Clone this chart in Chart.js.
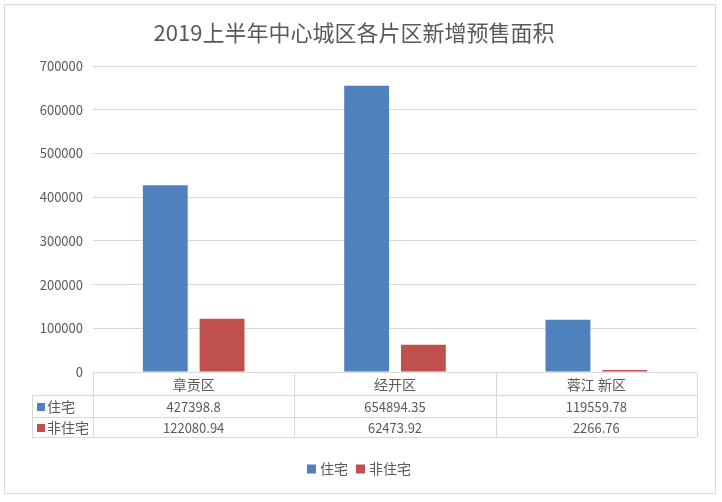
<!DOCTYPE html>
<html>
<head>
<meta charset="utf-8">
<script src="https://cdn.jsdelivr.net/npm/chart.js@4/dist/chart.umd.min.js"></script>
<style>
html,body{margin:0;padding:0;background:#fff;}
#wrap{width:722px;height:502px;position:relative;}
</style>
</head>
<body>
<div id="wrap"><canvas id="c" width="722" height="502"></canvas></div>
<script>
const titleText = '2019上半年中心城区各片区新增预售面积';
const categories = ['章贡区', '经开区', '蓉江 新区'];
const seriesNames = ['住宅', '非住宅'];
const residential = [427398.8, 654894.35, 119559.78];
const nonResidential = [122080.94, 62473.92, 2266.76];
const yTicks = [0, 100000, 200000, 300000, 400000, 500000, 600000, 700000];

const colors = ['#4f81bd', '#c0504d'];
const textColor = '#595959';
const lineColor = '#d9d9d9';
const FONT = '"Microsoft YaHei", "Noto Sans CJK SC", sans-serif';

const tablePlugin = {
  id: 'tablePlugin',
  afterDraw(chart) {
    const ctx = chart.ctx;
    const area = chart.chartArea;
    const x = chart.scales.x;
    const n = categories.length;
    const colW = (area.right - area.left) / n;
    const top = area.bottom;
    const rowY = [top, top + 23, top + 45, top + 65];
    const leftX = 32;
    ctx.save();
    ctx.strokeStyle = lineColor;
    ctx.lineWidth = 1;
    ctx.strokeRect(4.5, 4.5, 711, 489);
    ctx.fillStyle = textColor;
    ctx.font = '22px ' + FONT;
    ctx.textAlign = 'center';
    ctx.textBaseline = 'middle';
    ctx.fillText(titleText, 354, 33);
    ctx.strokeStyle = lineColor;
    ctx.beginPath();
    ctx.moveTo(area.left, rowY[0] + 0.5); ctx.lineTo(area.right, rowY[0] + 0.5);
    for (let r = 1; r < 4; r++) {
      ctx.moveTo(leftX, rowY[r] + 0.5); ctx.lineTo(area.right, rowY[r] + 0.5);
    }
    for (let i = 0; i <= n; i++) {
      const xx = Math.round(area.left + colW * i) + 0.5;
      ctx.moveTo(xx, rowY[0]); ctx.lineTo(xx, rowY[3]);
    }
    ctx.moveTo(leftX + 0.5, rowY[1]); ctx.lineTo(leftX + 0.5, rowY[3]);
    ctx.stroke();
    ctx.fillStyle = textColor;
    ctx.textAlign = 'center';
    ctx.font = '14px ' + FONT;
    for (let i = 0; i < n; i++) {
      ctx.fillText(categories[i], x.getPixelForValue(i), (rowY[0] + rowY[1]) / 2 + 1);
    }
    const rows = [residential, nonResidential];
    for (let r = 0; r < 2; r++) {
      const cy = (rowY[r + 1] + rowY[r + 2]) / 2 + 1;
      ctx.font = '13px ' + FONT;
      ctx.textAlign = 'center';
      for (let i = 0; i < n; i++) {
        ctx.fillText(String(rows[r][i]), x.getPixelForValue(i), cy);
      }
      ctx.fillStyle = colors[r];
      ctx.fillRect(leftX + 5, cy - 4, 8, 8);
      ctx.fillStyle = textColor;
      ctx.textAlign = 'left';
      ctx.font = '14px ' + FONT;
      ctx.fillText(seriesNames[r], leftX + 15, cy);
    }
    let lx = 307;
    const ly = 469;
    ctx.font = '14px ' + FONT;
    ctx.textAlign = 'left';
    for (let r = 0; r < 2; r++) {
      ctx.fillStyle = colors[r];
      ctx.fillRect(lx, ly - 4.5, 9, 9);
      ctx.fillStyle = textColor;
      ctx.fillText(seriesNames[r], lx + 13, ly);
      lx += 13 + ctx.measureText(seriesNames[r]).width + 8;
    }
    ctx.restore();
  }
};

new Chart(document.getElementById('c'), {
  type: 'bar',
  data: {
    labels: categories,
    datasets: [
      { label: seriesNames[0], data: residential, backgroundColor: colors[0], categoryPercentage: 0.564, barPercentage: 0.79, minBarLength: 2 },
      { label: seriesNames[1], data: nonResidential, backgroundColor: colors[1], categoryPercentage: 0.564, barPercentage: 0.79, minBarLength: 2 }
    ]
  },
  options: {
    responsive: false,
    animation: false,
    devicePixelRatio: 1,
    layout: { padding: { top: 66, right: 25, bottom: 130, left: 0 } },
    plugins: { legend: { display: false }, title: { display: false }, tooltip: { enabled: false } },
    scales: {
      x: { display: false },
      y: {
        min: 0, max: 700000,
        afterBuildTicks(scale) { scale.ticks = yTicks.map(v => ({ value: v })); },
        afterFit(scale) { scale.width = 93; },
        grid: { color: lineColor, drawTicks: false },
        border: { display: false },
        ticks: { color: textColor, font: { size: 13, family: FONT }, padding: 10, callback: (v) => String(v) }
      }
    }
  },
  plugins: [tablePlugin]
});
</script>
</body>
</html>
